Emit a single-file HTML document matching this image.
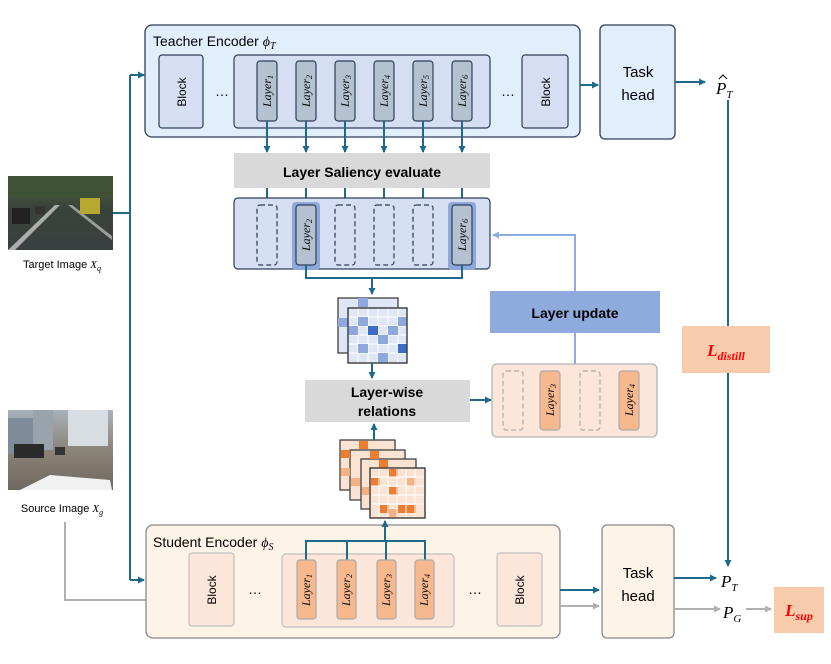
<!DOCTYPE html>
<html><head><meta charset="utf-8"><style>
html,body{margin:0;padding:0;background:#fff;}
svg{display:block;font-family:"Liberation Sans",sans-serif;}
.it{font-family:"Liberation Serif",serif;font-style:italic;}
</style></head><body>
<svg width="831" height="664" viewBox="0 0 831 664" xmlns="http://www.w3.org/2000/svg">
<defs>
<marker id="ab" markerWidth="8" markerHeight="8" refX="6" refY="4" orient="auto" markerUnits="userSpaceOnUse"><path d="M0,0.5 L7,4 L0,7.5 z" fill="#1f6a8a"/></marker>
<marker id="ag" markerWidth="8" markerHeight="8" refX="6" refY="4" orient="auto" markerUnits="userSpaceOnUse"><path d="M0,0.5 L7,4 L0,7.5 z" fill="#b0b0b0"/></marker>
<marker id="al" markerWidth="8" markerHeight="8" refX="6" refY="4" orient="auto" markerUnits="userSpaceOnUse"><path d="M0,0.5 L7,4 L0,7.5 z" fill="#8aaee0"/></marker>
<linearGradient id="tg" x1="0" y1="0" x2="0" y2="1"><stop offset="0" stop-color="#4f5f45"/><stop offset="0.45" stop-color="#39423a"/><stop offset="1" stop-color="#3a4040"/></linearGradient>
<linearGradient id="sg" x1="0" y1="0" x2="0" y2="1"><stop offset="0" stop-color="#a8b0bc"/><stop offset="0.5" stop-color="#8a8478"/><stop offset="1" stop-color="#6e6860"/></linearGradient>
</defs>

<!-- images -->
<rect x="8" y="176" width="105" height="74" fill="url(#tg)"/>
<rect x="8" y="176" width="105" height="22" fill="#3f5236"/>
<path d="M8,250 L55,205 L60,205 L15,250z" fill="#ddd" opacity="0.7"/>
<path d="M68,205 L112,240 L112,236 L72,205z" fill="#ddd" opacity="0.6"/>
<rect x="80" y="198" width="20" height="16" fill="#b8a830"/>
<rect x="12" y="208" width="18" height="16" fill="#222"/>
<rect x="35" y="206" width="10" height="8" fill="#333"/>
<text x="62" y="268" font-size="11" text-anchor="middle">Target Image <tspan class="it">X</tspan><tspan class="it" font-size="8" dy="3">q</tspan></text>

<rect x="8" y="410" width="105" height="80" fill="url(#sg)"/>
<rect x="8" y="418" width="35" height="36" fill="#7d8b9a"/>
<rect x="33" y="410" width="20" height="40" fill="#9aa3ab"/>
<rect x="68" y="410" width="40" height="36" fill="#d8dde2"/>
<rect x="14" y="444" width="30" height="14" fill="#2a2a2a"/>
<rect x="55" y="447" width="10" height="8" fill="#333"/>
<path d="M20,490 L50,475 L110,480 L112,490z" fill="#f1f1f1"/>
<text x="62" y="512" font-size="11" text-anchor="middle">Source Image <tspan class="it">X</tspan><tspan class="it" font-size="8" dy="3">g</tspan></text>

<!-- left connectors -->
<path d="M113,213 H130" stroke="#1f6a8a" stroke-width="2" fill="none"/>
<path d="M130,75 V580" stroke="#1f6a8a" stroke-width="2" fill="none"/>
<path d="M130,75 H144" stroke="#1f6a8a" stroke-width="2" fill="none" marker-end="url(#ab)"/>
<path d="M130,580 H144" stroke="#1f6a8a" stroke-width="2" fill="none" marker-end="url(#ab)"/>
<path d="M65,522 V600 H146" stroke="#b0b0b0" stroke-width="2" fill="none"/>

<!-- Teacher encoder -->
<rect x="145" y="25" width="435" height="112" rx="7" fill="#e1eefc" stroke="#2f3e5a" stroke-width="1.3"/>
<text x="153" y="46" font-size="14">Teacher Encoder <tspan class="it">ϕ</tspan><tspan class="it" font-size="10" dy="3">T</tspan></text>
<rect x="159" y="55" width="44" height="73" rx="3" fill="#d5def2" stroke="#2f3e5a" stroke-width="1.2"/>
<text transform="translate(186,92) rotate(-90)" font-size="12" text-anchor="middle">Block</text>
<text x="222" y="96" font-size="14" text-anchor="middle">…</text>
<rect x="234" y="55" width="256" height="73" rx="4" fill="#d5def2" stroke="#2f3e5a" stroke-width="1.2"/>
<rect x="522" y="55" width="46" height="73" rx="3" fill="#d5def2" stroke="#2f3e5a" stroke-width="1.2"/>
<text transform="translate(550,92) rotate(-90)" font-size="12" text-anchor="middle">Block</text>
<text x="508" y="96" font-size="14" text-anchor="middle">…</text>
<g font-size="12">
<g><rect x="257" y="61" width="20" height="60" rx="3" fill="#b3c1d1" stroke="#2f3e5a" stroke-width="1.2"/><text class="it" transform="translate(271,91) rotate(-90)" text-anchor="middle">Layer<tspan font-size="8" dy="2">1</tspan></text></g>
<g><rect x="296" y="61" width="20" height="60" rx="3" fill="#b3c1d1" stroke="#2f3e5a" stroke-width="1.2"/><text class="it" transform="translate(310,91) rotate(-90)" text-anchor="middle">Layer<tspan font-size="8" dy="2">2</tspan></text></g>
<g><rect x="335" y="61" width="20" height="60" rx="3" fill="#b3c1d1" stroke="#2f3e5a" stroke-width="1.2"/><text class="it" transform="translate(349,91) rotate(-90)" text-anchor="middle">Layer<tspan font-size="8" dy="2">3</tspan></text></g>
<g><rect x="374" y="61" width="20" height="60" rx="3" fill="#b3c1d1" stroke="#2f3e5a" stroke-width="1.2"/><text class="it" transform="translate(388,91) rotate(-90)" text-anchor="middle">Layer<tspan font-size="8" dy="2">4</tspan></text></g>
<g><rect x="413" y="61" width="20" height="60" rx="3" fill="#b3c1d1" stroke="#2f3e5a" stroke-width="1.2"/><text class="it" transform="translate(427,91) rotate(-90)" text-anchor="middle">Layer<tspan font-size="8" dy="2">5</tspan></text></g>
<g><rect x="452" y="61" width="20" height="60" rx="3" fill="#b3c1d1" stroke="#2f3e5a" stroke-width="1.2"/><text class="it" transform="translate(466,91) rotate(-90)" text-anchor="middle">Layer<tspan font-size="8" dy="2">6</tspan></text></g>
</g>
<g stroke="#1f6a8a" stroke-width="2" fill="none" marker-end="url(#ab)">
<path d="M267,121 V152"/><path d="M306,121 V152"/><path d="M345,121 V152"/><path d="M384,121 V152"/><path d="M423,121 V152"/><path d="M462,121 V152"/>
</g>
<path d="M580,85 H598" stroke="#1f6a8a" stroke-width="2" marker-end="url(#ab)"/>

<!-- Task head teacher -->
<rect x="600" y="25" width="75" height="114" rx="5" fill="#e1eefc" stroke="#2f3e5a" stroke-width="1.3"/>
<text x="638" y="77" font-size="15" text-anchor="middle">Task</text>
<text x="638" y="100" font-size="15" text-anchor="middle">head</text>
<path d="M675,82 H705" stroke="#1f6a8a" stroke-width="2" marker-end="url(#ab)"/>
<text class="it" x="716" y="94" font-size="17">P<tspan font-size="11" dy="4">T</tspan></text>
<path d="M719,79 L723,75 L727,79" stroke="#000" stroke-width="1" fill="none"/>

<!-- Saliency -->
<rect x="234" y="153" width="256" height="35" fill="#d9d9d9"/>
<text x="362" y="177" font-size="14" font-weight="bold" text-anchor="middle">Layer Saliency evaluate</text>
<g stroke="#1f6a8a" stroke-width="2" fill="none" marker-end="url(#ab)">
<path d="M267,188 V207"/><path d="M306,188 V207"/><path d="M345,188 V207"/><path d="M384,188 V207"/><path d="M423,188 V207"/><path d="M462,188 V207"/>
</g>
<rect x="234" y="198" width="256" height="71" rx="4" fill="#d5def2" stroke="#2f3e5a" stroke-width="1.2"/>
<g fill="none" stroke="#2f3e5a" stroke-width="1.2" stroke-dasharray="5,3">
<rect x="257" y="205" width="20" height="60" rx="3"/><rect x="335" y="205" width="20" height="60" rx="3"/><rect x="374" y="205" width="20" height="60" rx="3"/><rect x="413" y="205" width="20" height="60" rx="3"/>
</g>
<rect x="292" y="202" width="28" height="68" rx="4" fill="#8fa8dc"/>
<rect x="448" y="202" width="28" height="68" rx="4" fill="#8fa8dc"/>
<g font-size="12">
<rect x="296" y="205" width="20" height="60" rx="3" fill="#b3c1d1" stroke="#2f3e5a" stroke-width="1.2"/><text class="it" transform="translate(310,235) rotate(-90)" text-anchor="middle">Layer<tspan font-size="8" dy="2">2</tspan></text>
<rect x="452" y="205" width="20" height="60" rx="3" fill="#b3c1d1" stroke="#2f3e5a" stroke-width="1.2"/><text class="it" transform="translate(466,235) rotate(-90)" text-anchor="middle">Layer<tspan font-size="8" dy="2">6</tspan></text>
</g>
<path d="M306,265 V278 H462 V265" stroke="#1f6a8a" stroke-width="2" fill="none"/>
<path d="M372,278 V294" stroke="#1f6a8a" stroke-width="2" marker-end="url(#ab)"/>

<!-- blue matrices -->
<g>
<rect x="338" y="298" width="60" height="55" fill="#dfe7f6" stroke="#333" stroke-width="1.2"/>
<rect x="358" y="298" width="10" height="9" fill="#8fa8dc"/><rect x="338" y="318" width="10" height="9" fill="#8fa8dc"/>
<rect x="348" y="308" width="59" height="55" fill="#dfe7f6" stroke="#333" stroke-width="1.2"/>
<g stroke="#fff" stroke-width="1"><path d="M358,308V363M368,308V363M378,308V363M388,308V363M398,308V363M348,317H407M348,326H407M348,335H407M348,344H407M348,353H407"/></g>
<rect x="358" y="317" width="10" height="9" fill="#8fa8dc"/><rect x="368" y="326" width="10" height="9" fill="#3d6cc6"/>
<rect x="348" y="326" width="10" height="9" fill="#8fa8dc"/><rect x="388" y="326" width="10" height="9" fill="#8fa8dc"/>
<rect x="398" y="317" width="9" height="9" fill="#8fa8dc"/><rect x="378" y="335" width="10" height="9" fill="#8fa8dc"/>
<rect x="398" y="344" width="9" height="9" fill="#3d6cc6"/><rect x="358" y="344" width="10" height="9" fill="#8fa8dc"/>
<rect x="378" y="353" width="10" height="10" fill="#8fa8dc"/>
<rect x="348" y="308" width="59" height="55" fill="none" stroke="#333" stroke-width="1.2"/>
</g>
<path d="M372,363 V378" stroke="#1f6a8a" stroke-width="2" marker-end="url(#ab)"/>

<!-- Layer-wise relations -->
<rect x="305" y="380" width="165" height="42" fill="#d9d9d9"/>
<text x="387" y="397" font-size="14" font-weight="bold" text-anchor="middle">Layer-wise</text>
<text x="387" y="416" font-size="14" font-weight="bold" text-anchor="middle">relations</text>
<path d="M470,400 H491" stroke="#1f6a8a" stroke-width="2" marker-end="url(#ab)"/>

<!-- orange selected box -->
<rect x="492" y="364" width="165" height="73" rx="5" fill="#fce6da" stroke="#b4b4b4" stroke-width="1.3"/>
<g fill="none" stroke="#aaa" stroke-width="1.2" stroke-dasharray="5,3"><rect x="503" y="371" width="20" height="59" rx="3"/><rect x="580" y="371" width="20" height="59" rx="3"/></g>
<g font-size="12">
<rect x="540" y="371" width="20" height="59" rx="3" fill="#f7b88e" stroke="#aaa" stroke-width="1.2"/><text class="it" transform="translate(554,400) rotate(-90)" text-anchor="middle">Layer<tspan font-size="8" dy="2">3</tspan></text>
<rect x="619" y="371" width="20" height="59" rx="3" fill="#f7b88e" stroke="#aaa" stroke-width="1.2"/><text class="it" transform="translate(633,400) rotate(-90)" text-anchor="middle">Layer<tspan font-size="8" dy="2">4</tspan></text>
</g>

<!-- Layer update -->
<path d="M575,364 V333" stroke="#8aaee0" stroke-width="2"/>
<path d="M575,291 V235 H493" stroke="#8aaee0" stroke-width="2" fill="none" marker-end="url(#al)"/>
<rect x="490" y="291" width="170" height="42" fill="#8faadc"/>
<text x="575" y="318" font-size="14" font-weight="bold" text-anchor="middle">Layer update</text>

<!-- orange matrices -->
<g stroke="#333" stroke-width="1.2">
<rect x="340" y="440" width="55" height="50" fill="#fbe3d4"/>
<rect x="350" y="450" width="55" height="50" fill="#fbe3d4"/>
<rect x="361" y="459" width="55" height="50" fill="#fbe3d4"/>
<rect x="370" y="468" width="55" height="50" fill="#fbe3d4"/>
</g>
<rect x="359" y="441" width="9" height="8" fill="#ed7d31"/><rect x="341" y="450" width="9" height="8" fill="#ed7d31"/>
<rect x="341" y="468" width="9" height="8" fill="#f4b183"/>
<rect x="370" y="451" width="9" height="8" fill="#ed7d31"/><rect x="379" y="460" width="9" height="8" fill="#ed7d31"/>
<rect x="351" y="478" width="9" height="8" fill="#f4b183"/><rect x="362" y="487" width="9" height="8" fill="#f4b183"/>
<rect x="371" y="478" width="9" height="8" fill="#ed7d31"/><rect x="389" y="469" width="9" height="8" fill="#ed7d31"/>
<rect x="389" y="487" width="9" height="8" fill="#ed7d31"/><rect x="407" y="478" width="9" height="8" fill="#f4b183"/>
<rect x="380" y="505" width="9" height="8" fill="#ed7d31"/><rect x="407" y="505" width="9" height="8" fill="#ed7d31"/>
<rect x="398" y="505" width="9" height="8" fill="#ed7d31"/><rect x="389" y="509" width="9" height="8" fill="#f4b183"/>
<g stroke="#fff" stroke-width="1"><path d="M379,469V517M388,469V517M397,469V517M406,469V517M415,469V517M371,477H424M371,486H424M371,495H424M371,504H424"/></g>
<rect x="370" y="468" width="55" height="50" fill="none" stroke="#333" stroke-width="1.2"/>
<path d="M374,440 V424" stroke="#1f6a8a" stroke-width="2" marker-end="url(#ab)"/>

<!-- Student encoder -->
<rect x="146" y="525" width="414" height="113" rx="7" fill="#fdf3e6" stroke="#888" stroke-width="1.3"/>
<text x="153" y="547" font-size="14">Student Encoder <tspan class="it">ϕ</tspan><tspan class="it" font-size="10" dy="3">S</tspan></text>
<rect x="189" y="553" width="45" height="73" rx="3" fill="#fce6da" stroke="#c0c0c0" stroke-width="1.2"/>
<text transform="translate(216,590) rotate(-90)" font-size="12" text-anchor="middle">Block</text>
<text x="255" y="594" font-size="14" text-anchor="middle">…</text>
<rect x="282" y="554" width="172" height="73" rx="4" fill="#fce6da" stroke="#c0c0c0" stroke-width="1.2"/>
<rect x="497" y="553" width="45" height="73" rx="3" fill="#fce6da" stroke="#c0c0c0" stroke-width="1.2"/>
<text transform="translate(524,590) rotate(-90)" font-size="12" text-anchor="middle">Block</text>
<text x="475" y="594" font-size="14" text-anchor="middle">…</text>
<path d="M306,560 V541 H425 V560 M347,541 V560 M386,541 V560" stroke="#1f6a8a" stroke-width="2" fill="none"/>
<path d="M385,541 V521" stroke="#1f6a8a" stroke-width="2" marker-end="url(#ab)"/>
<g font-size="12">
<rect x="297" y="560" width="19" height="59" rx="3" fill="#f7b88e" stroke="#aaa" stroke-width="1.2"/><text class="it" transform="translate(310,590) rotate(-90)" text-anchor="middle">Layer<tspan font-size="8" dy="2">1</tspan></text>
<rect x="337" y="560" width="19" height="59" rx="3" fill="#f7b88e" stroke="#aaa" stroke-width="1.2"/><text class="it" transform="translate(350,590) rotate(-90)" text-anchor="middle">Layer<tspan font-size="8" dy="2">2</tspan></text>
<rect x="377" y="560" width="19" height="59" rx="3" fill="#f7b88e" stroke="#aaa" stroke-width="1.2"/><text class="it" transform="translate(390,590) rotate(-90)" text-anchor="middle">Layer<tspan font-size="8" dy="2">3</tspan></text>
<rect x="415" y="560" width="19" height="59" rx="3" fill="#f7b88e" stroke="#aaa" stroke-width="1.2"/><text class="it" transform="translate(428,590) rotate(-90)" text-anchor="middle">Layer<tspan font-size="8" dy="2">4</tspan></text>
</g>
<path d="M560,590 H599" stroke="#1f6a8a" stroke-width="2" marker-end="url(#ab)"/>
<path d="M560,606 H599" stroke="#b0b0b0" stroke-width="2" marker-end="url(#ag)"/>

<!-- task head student -->
<rect x="602" y="525" width="72" height="113" rx="5" fill="#fdf3e6" stroke="#888" stroke-width="1.3"/>
<text x="638" y="578" font-size="15" text-anchor="middle">Task</text>
<text x="638" y="601" font-size="15" text-anchor="middle">head</text>
<path d="M674,578 H716" stroke="#1f6a8a" stroke-width="2" marker-end="url(#ab)"/>
<path d="M674,609 H720" stroke="#b0b0b0" stroke-width="2" marker-end="url(#ag)"/>
<text class="it" x="721" y="587" font-size="17">P<tspan font-size="11" dy="4">T</tspan></text>
<text class="it" x="723" y="618" font-size="17">P<tspan font-size="11" dy="4">G</tspan></text>
<path d="M746,609 H771" stroke="#b0b0b0" stroke-width="2" marker-end="url(#ag)"/>

<!-- distill line -->
<path d="M728,100 V566" stroke="#1f6a8a" stroke-width="2" fill="none" marker-end="url(#ab)"/>
<rect x="682" y="326" width="88" height="47" fill="#f8cbad"/>
<text class="it" x="726" y="356" font-size="17" font-weight="bold" fill="#f00" text-anchor="middle">L<tspan font-size="12" dy="4">distill</tspan></text>
<rect x="774" y="587" width="50" height="46" fill="#f8cbad"/>
<text class="it" x="799" y="616" font-size="17" font-weight="bold" fill="#f00" text-anchor="middle">L<tspan font-size="12" dy="4">sup</tspan></text>
</svg>
</body></html>
